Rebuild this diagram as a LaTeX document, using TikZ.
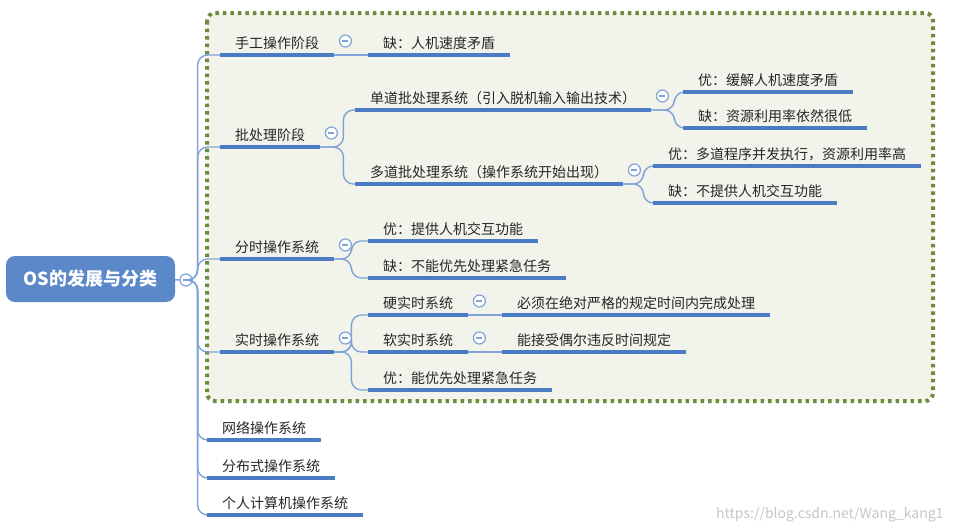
\documentclass[tikz,border=0pt]{standalone}
\usepackage{fontspec}
\setmainfont{Noto Sans CJK SC}
\definecolor{mapblue}{HTML}{4A7BC4}
\definecolor{rootblue}{HTML}{5B88C9}
\definecolor{linkblue}{HTML}{7FA3D8}
\definecolor{boxgreen}{HTML}{6E8B3D}
\definecolor{boxfill}{HTML}{F2F3EA}
\definecolor{txt}{HTML}{262626}
\tikzset{
  topic/.style={anchor=south west,inner xsep=15pt,inner ysep=5pt,text=txt,font=\fontsize{14}{16}\selectfont},
  uline/.style={mapblue,line width=3.5pt},
  link/.style={linkblue,line width=1.4pt,rounded corners=10pt},
  fold/.style={circle,draw=linkblue,line width=1.2pt,fill=white,minimum size=12pt,inner sep=0pt,
    path picture={\draw[linkblue,line width=1.2pt] ([xshift=-3pt]path picture bounding box.center) -- ([xshift=3pt]path picture bounding box.center);}},
}
\begin{document}
\begin{tikzpicture}[x=1pt,y=-1pt]
  \useasboundingbox (0,0) rectangle (955,531);
  \draw[boxgreen,fill=boxfill,line width=4pt,dash pattern=on 3.5pt off 4pt,rounded corners=8pt]
       (207,13) rectangle (933,401);

  \node[fill=rootblue,rounded corners=9pt,minimum width=169pt,minimum height=46pt,text=white,
        font=\fontsize{18}{20}\selectfont\bfseries] (root) at (90.5,279) {OS的发展与分类};
  \node[fold] (f-root) at (186,280) {};

  % first level
  \node[topic] (manual) at (220,55) {手工操作阶段};
  \node[topic] (batch) at (220,147) {批处理阶段};
  \node[topic] (tshare) at (220,259) {分时操作系统};
  \node[topic] (rtime) at (220,352) {实时操作系统};
  \node[topic] (net) at (207,440) {网络操作系统};
  \node[topic] (dist) at (207,478) {分布式操作系统};
  \node[topic] (pc) at (207,515) {个人计算机操作系统};

  % second level
  \node[topic] (manual-c) at (368,55) {缺：人机速度矛盾};
  \node[topic] (single) at (355,110) {单道批处理系统（引入脱机输入输出技术）};
  \node[topic] (multi) at (355,184) {多道批处理系统（操作系统开始出现）};
  \node[topic] (ts-pro) at (368,241) {优：提供人机交互功能};
  \node[topic] (ts-con) at (368,278) {缺：不能优先处理紧急任务};
  \node[topic] (hard) at (368,315) {硬实时系统};
  \node[topic] (soft) at (368,352) {软实时系统};
  \node[topic] (rt-pro) at (368,390) {优：能优先处理紧急任务};

  % third level
  \node[topic] (single-pro) at (683,92) {优：缓解人机速度矛盾};
  \node[topic] (single-con) at (683,128) {缺：资源利用率依然很低};
  \node[topic] (multi-pro) at (653,166) {优：多道程序并发执行，资源利用率高};
  \node[topic] (multi-con) at (653,203) {缺：不提供人机交互功能};
  \node[topic] (hard-d) at (502,315) {必须在绝对严格的规定时间内完成处理};
  \node[topic] (soft-d) at (502,352) {能接受偶尔违反时间规定};

  \draw[link] (root) -- (f-root);
  \foreach \n in {manual,batch,tshare,rtime,net,dist,pc}
    \draw[link] (f-root.east) -- ++(5,0) |- (\n.south west);
  \draw[link] (manual.south east) -- (manual-c.south west);
  \foreach \n in {single,multi}
    \draw[link] (batch.south east) -- ++(23,0) |- (\n.south west);
  \foreach \n in {single-pro,single-con}
    \draw[link] (single.south east) -- ++(23,0) |- (\n.south west);
  \foreach \n in {multi-pro,multi-con}
    \draw[link] (multi.south east) -- ++(20,0) |- (\n.south west);
  \foreach \n in {ts-pro,ts-con}
    \draw[link] (tshare.south east) -- ++(17,0) |- (\n.south west);
  \foreach \n in {hard,soft,rt-pro}
    \draw[link] (rtime.south east) -- ++(17,0) |- (\n.south west);
  \draw[link] (hard.south east) -- (hard-d.south west);
  \draw[link] (soft.south east) -- (soft-d.south west);

  \foreach \n in {manual,batch,tshare,rtime,net,dist,pc,manual-c,single,multi,ts-pro,ts-con,
                  hard,soft,rt-pro,single-pro,single-con,multi-pro,multi-con,hard-d,soft-d}
    \draw[uline] (\n.south west) -- (\n.south east);
  \foreach \n in {manual,batch,tshare,rtime,single,multi,hard,soft}
    \node[fold] (f-\n) at ([shift={(11pt,14pt)}]\n.south east) {};

  \node[text=gray!45,font=\fontsize{14}{16}\selectfont,anchor=east] (mark) at (947,515)
       {https://blog.csdn.net/Wang\_kang1};
\end{tikzpicture}
\end{document}
